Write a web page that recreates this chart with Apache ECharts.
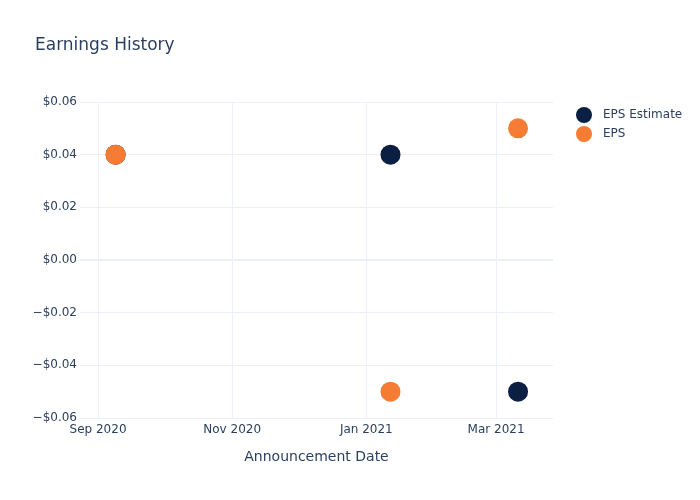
<!DOCTYPE html>
<html>
<head>
<meta charset="utf-8">
<script src="https://cdn.jsdelivr.net/npm/echarts@6/dist/echarts.min.js"></script>
<style>html,body{margin:0;padding:0;background:#fff}#c{width:700px;height:500px}</style>
</head>
<body>
<div id="c"></div>
<script>
const dates = ['2020-09-09', '2021-01-12', '2021-03-11'];
const epsEstimate = [0.04, 0.04, -0.05];
const eps = [0.04, -0.05, 0.05];
const xTicks = ['2020-09-01', '2020-11-01', '2021-01-01', '2021-03-01'];
const xTickLabels = ['Sep 2020', 'Nov 2020', 'Jan 2021', 'Mar 2021'];
const yTicks = [-0.06, -0.04, -0.02, 0, 0.02, 0.04, 0.06];

const ts = s => Date.parse(s + 'T00:00:00Z');
const DAY = 86400000;
const xTickTs = xTicks.map(ts);
const labelMap = {};
xTickTs.forEach((t, i) => labelMap[t] = xTickLabels[i]);

const FONT = '"DejaVu Sans", sans-serif';
const TXT = '#2a3f5f';
const GRID = '#ebf0f8';

const chart = echarts.init(document.getElementById('c'), null, {renderer: 'canvas'});
chart.setOption({
  animation: false,
  backgroundColor: '#fff',
  textStyle: {fontFamily: FONT},
  title: {
    text: 'Earnings History', left: 30, top: 32,
    textStyle: {fontFamily: FONT, fontSize: 17, fontWeight: 'normal', color: TXT}
  },
  legend: {
    orient: 'vertical', left: 576, top: 107, itemGap: 3, padding: 0,
    itemWidth: 18, itemHeight: 16, icon: 'circle',
    textStyle: {fontFamily: FONT, fontSize: 12, color: TXT, padding: [0, 0, 0, 5]}
  },
  grid: {left: 80, right: 147, top: 102, bottom: 82, containLabel: false},
  xAxis: {
    type: 'value',
    min: ts('2020-09-01') - 8.2 * DAY,
    max: ts('2021-03-01') + 25.9 * DAY,
    name: 'Announcement Date', nameLocation: 'middle', nameGap: 32,
    nameTextStyle: {fontFamily: FONT, fontSize: 14, color: TXT},
    axisLine: {show: false},
    axisTick: {show: false, customValues: xTickTs},
    splitLine: {show: true, customValues: xTickTs, lineStyle: {color: GRID, width: 1}},
    axisLabel: {
      customValues: xTickTs, margin: 6, showMinLabel: true, showMaxLabel: true,
      fontFamily: FONT, fontSize: 12, color: TXT,
      formatter: v => labelMap[v] || ''
    }
  },
  yAxis: {
    type: 'value', min: -0.06, max: 0.06, interval: 0.02,
    axisLine: {show: false}, axisTick: {show: false},
    splitLine: {lineStyle: {color: GRID, width: 1}},
    axisLabel: {
      margin: 3, fontFamily: FONT, fontSize: 12, color: TXT,
      formatter: v => {
        const r = Math.round(v * 100) / 100;
        return (r < 0 ? '\u2212' : '') + '$' + Math.abs(r).toFixed(2);
      }
    }
  },
  series: [
    {
      name: 'EPS Estimate', type: 'scatter', symbolSize: 20,
      itemStyle: {color: '#0b1f42', opacity: 1},
      data: dates.map((d, i) => [ts(d), epsEstimate[i]]),
      markLine: {
        silent: true, symbol: 'none', label: {show: false},
        lineStyle: {color: GRID, width: 2, type: 'solid'},
        data: [{yAxis: 0}], z: 0
      }
    },
    {
      name: 'EPS', type: 'scatter', symbolSize: 20,
      itemStyle: {color: '#f57c32', opacity: 1},
      data: dates.map((d, i) => [ts(d), eps[i]])
    }
  ]
});
</script>
</body>
</html>
